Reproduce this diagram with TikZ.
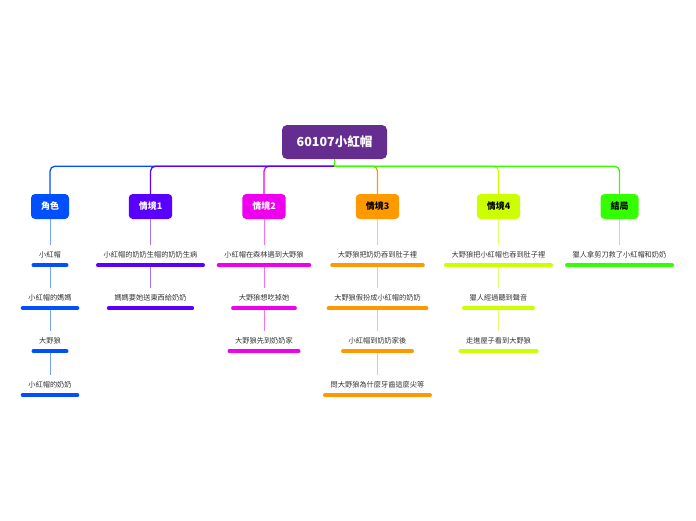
\documentclass[tikz,border=0pt]{standalone}
\usepackage{fontspec}
\setmainfont{Noto Sans CJK TC}
\definecolor{rootc}{HTML}{662D91}
\definecolor{ca}{HTML}{0050FF}
\definecolor{cb}{HTML}{5A00FF}
\definecolor{cc}{HTML}{EE00EE}
\definecolor{cd}{HTML}{FF9900}
\definecolor{ce}{HTML}{CCFF00}
\definecolor{cf}{HTML}{33FF00}
\definecolor{subtext}{HTML}{333333}
\begin{document}
\begin{tikzpicture}[x=1pt,y=-1pt,
  rootbox/.style={rounded corners=5pt, fill=rootc, text=white, font=\fontsize{12.5}{13}\selectfont\bfseries, minimum width=105pt, minimum height=34pt, inner sep=0pt},
  topic/.style={rounded corners=4pt, fill=#1, minimum height=25pt, inner xsep=10pt, inner ysep=0pt, font=\fontsize{9}{9}\selectfont\bfseries},
  sub/.style={font=\fontsize{7.2}{7.2}\selectfont, text=subtext, minimum height=20pt, inner xsep=7.5pt, inner ysep=0pt},
  branch/.style={draw=#1, line width=1.3pt, rounded corners=5pt},
  stub/.style={draw=#1, line width=1.3pt},
  link/.style={draw=#1!55!white, line width=0.9pt},
  bar/.style={draw=#1, line width=4pt, line cap=round}
]
\useasboundingbox (0,0) rectangle (696,520);

\node[rootbox] (root) at (334.5,142) {60107小紅帽};
\path (root.south) ++(0,7) coordinate (j);

\node[topic=ca, text=white] (ta) at (50,206.5) {角色};
\node[topic=cb, text=white] (tb) at (150.5,206.5) {情境1};
\node[topic=cc, text=white] (tc) at (264,206.5) {情境2};
\node[topic=cd, text=black] (td) at (377.5,206.5) {情境3};
\node[topic=ce, text=black] (te) at (498.5,206.5) {情境4};
\node[topic=cf, text=black] (tf) at (619.5,206.5) {結局};

% branches
\draw[branch=cc] (j) -| (tc.north);
\draw[branch=ca] (j) -| (ta.north);
\draw[branch=cb] (j) -| (tb.north);
\draw[branch=cd] (j) -| (td.north);
\draw[branch=ce] (j) -| (te.north);
\draw[branch=cf] (j) -| (tf.north);
\draw[stub=cf] (root.south) -- (j);

% sub nodes
\node[sub] (a1) at (50,255) {小紅帽};
\node[sub] (a2) at (50,298) {小紅帽的媽媽};
\node[sub] (a3) at (50,341) {大野狼};
\node[sub] (a4) at (50,385) {小紅帽的奶奶};

\node[sub] (b1) at (150.5,255) {小紅帽的奶奶生帽的奶奶生病};
\node[sub] (b2) at (150.5,298) {媽媽要她送東西給奶奶};

\node[sub] (c1) at (264,255) {小紅帽在森林遇到大野狼};
\node[sub] (c2) at (264,298) {大野狼想吃掉她};
\node[sub] (c3) at (264,341) {大野狼先到奶奶家};

\node[sub] (d1) at (377.5,255) {大野狼把奶奶吞到肚子裡};
\node[sub] (d2) at (377.5,298) {大野狼假扮成小紅帽的奶奶};
\node[sub] (d3) at (377.5,341) {小紅帽到奶奶家後};
\node[sub] (d4) at (377.5,385) {問大野狼為什麼牙齒這麼尖等};

\node[sub] (e1) at (498.5,255) {大野狼把小紅帽也吞到肚子裡};
\node[sub] (e2) at (498.5,298) {獵人經過聽到聲音};
\node[sub] (e3) at (498.5,341) {走進屋子看到大野狼};

\node[sub] (f1) at (619.5,255) {獵人拿剪刀救了小紅帽和奶奶};

% links
\draw[link=ca] (ta.south) -- (a1.north);
\draw[link=ca] (a1.south) -- (a2.north);
\draw[link=ca] (a2.south) -- (a3.north);
\draw[link=ca] (a3.south) -- (a4.north);
\draw[link=cb] (tb.south) -- (b1.north);
\draw[link=cb] (b1.south) -- (b2.north);
\draw[link=cc] (tc.south) -- (c1.north);
\draw[link=cc] (c1.south) -- (c2.north);
\draw[link=cc] (c2.south) -- (c3.north);
\draw[link=cd] (td.south) -- (d1.north);
\draw[link=cd] (d1.south) -- (d2.north);
\draw[link=cd] (d2.south) -- (d3.north);
\draw[link=cd] (d3.south) -- (d4.north);
\draw[link=ce] (te.south) -- (e1.north);
\draw[link=ce] (e1.south) -- (e2.north);
\draw[link=ce] (e2.south) -- (e3.north);
\draw[link=cf] (tf.south) -- (f1.north);

% bars
\foreach \n/\c in {a1/ca,a2/ca,a3/ca,a4/ca,b1/cb,b2/cb,c1/cc,c2/cc,c3/cc,d1/cd,d2/cd,d3/cd,d4/cd,e1/ce,e2/ce,e3/ce,f1/cf}
  \draw[bar=\c] ([xshift=2pt]\n.south west) -- ([xshift=-2pt]\n.south east);
\end{tikzpicture}
\end{document}
